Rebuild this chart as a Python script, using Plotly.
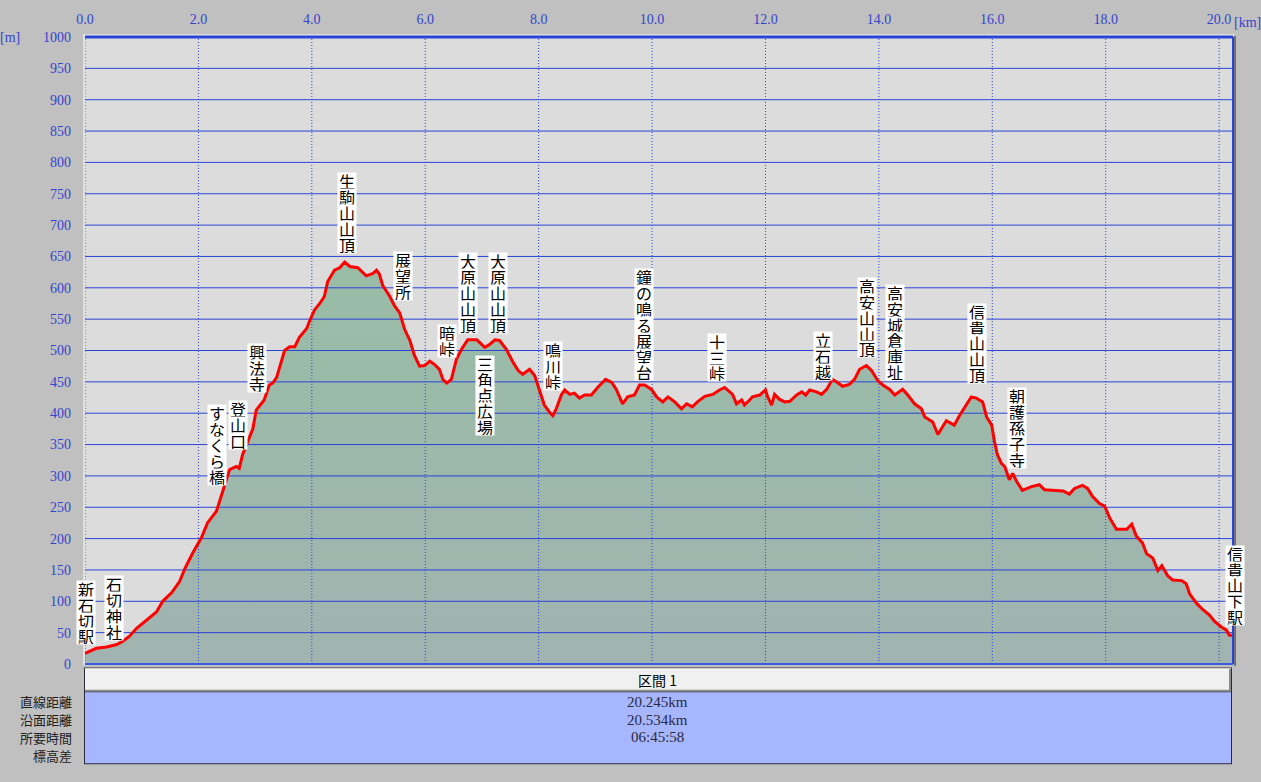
import plotly.graph_objects as go

# ---------------- data ----------------
dist_km = [0.00, 0.11, 0.20, 0.38, 0.56, 0.66, 0.78, 0.91, 1.08, 1.26, 1.37, 1.53, 1.67, 1.76, 1.90,
           2.05, 2.16, 2.32, 2.41, 2.46, 2.55, 2.67, 2.72, 2.78, 2.87, 2.96, 3.02, 3.16, 3.25, 3.31,
           3.38, 3.46, 3.52, 3.61, 3.70, 3.78, 3.91, 3.96, 4.05, 4.14, 4.22, 4.28, 4.40, 4.49, 4.58,
           4.67, 4.81, 4.96, 5.08, 5.14, 5.19, 5.25, 5.37, 5.46, 5.55, 5.64, 5.73, 5.81, 5.90, 5.99,
           6.08, 6.16, 6.25, 6.31, 6.38, 6.46, 6.55, 6.64, 6.75, 6.91, 7.05, 7.14, 7.23, 7.31, 7.43,
           7.55, 7.64, 7.72, 7.84, 7.93, 8.02, 8.10, 8.19, 8.25, 8.31, 8.40, 8.46, 8.55, 8.63, 8.72,
           8.81, 8.93, 9.04, 9.18, 9.29, 9.37, 9.48, 9.57, 9.69, 9.78, 9.87, 9.99, 10.08, 10.19, 10.28,
           10.40, 10.52, 10.61, 10.71, 10.80, 10.93, 11.07, 11.19, 11.28, 11.42, 11.49, 11.58, 11.63,
           11.72, 11.77, 11.90, 12.00, 12.04, 12.11, 12.16, 12.25, 12.34, 12.43, 12.55, 12.64, 12.71,
           12.78, 12.90, 12.99, 13.08, 13.18, 13.27, 13.36, 13.48, 13.57, 13.66, 13.78, 13.87, 13.98,
           14.07, 14.19, 14.28, 14.42, 14.51, 14.63, 14.75, 14.81, 14.95, 15.04, 15.19, 15.33, 15.42,
           15.54, 15.63, 15.72, 15.83, 15.90, 15.99, 16.04, 16.09, 16.16, 16.22, 16.30, 16.36, 16.43,
           16.53, 16.69, 16.83, 16.92, 17.13, 17.25, 17.36, 17.45, 17.59, 17.68, 17.77, 17.89, 17.98,
           18.07, 18.19, 18.37, 18.46, 18.54, 18.65, 18.72, 18.83, 18.92, 18.99, 19.09, 19.18, 19.34,
           19.42, 19.48, 19.60, 19.71, 19.83, 19.92, 20.04, 20.13, 20.18, 20.245]
elev_m = [17, 22, 25, 27, 31, 36, 44, 57, 70, 83, 100, 114, 132, 152, 177,
          201, 225, 244, 270, 285, 310, 315, 312, 334, 354, 375, 405, 421, 445, 448,
          457, 481, 500, 506, 506, 521, 535, 547, 565, 575, 586, 610, 628, 632, 641,
          634, 632, 619, 623, 628, 622, 604, 587, 571, 560, 533, 516, 492, 475, 476,
          483, 478, 470, 454, 448, 454, 486, 502, 517, 517, 505, 510, 517, 516, 502,
          481, 468, 462, 470, 460, 434, 413, 402, 396, 407, 429, 437, 430, 432, 424,
          429, 429, 441, 454, 449, 438, 415, 426, 429, 445, 445, 438, 426, 418, 426,
          418, 407, 415, 410, 418, 427, 430, 437, 441, 430, 415, 421, 413,
          421, 426, 429, 437, 426, 413, 430, 422, 418, 419, 429, 434, 429,
          437, 434, 430, 438, 454, 449, 443, 446, 454, 470, 476, 468, 452,
          445, 438, 429, 438, 429, 415, 407, 394, 386, 366, 388, 381, 396,
          413, 426, 424, 418, 394, 381, 354, 334, 320, 315, 294, 304, 291,
          277, 283, 286, 278, 277, 276, 271, 280, 285, 280, 267, 256, 252,
          233, 215, 215, 223, 204, 193, 176, 169, 149, 157, 141, 134, 133,
          128, 112, 97, 87, 78, 68, 59, 54, 46, 46]

label_names = ["新石切駅", "石切神社", "すなくら橋", "登山口", "興法寺", "生駒山山頂", "展望所", "暗峠",
               "大原山山頂", "大原山山頂", "三角点広場", "鳴川峠", "鐘の鳴る展望台", "十三峠", "立石越",
               "高安山山頂", "高安城倉庫址", "信貴山山頂", "朝護孫子寺", "信貴山下駅"]
label_km = [0.01, 0.51, 2.33, 2.70, 3.03, 4.62, 5.61, 6.38, 6.75, 7.28, 7.05, 8.25, 9.86, 11.15,
            13.02, 13.79, 14.29, 15.73, 16.44, 20.28]
label_top_m = [120, 127, 400, 407, 498, 770, 644, 528, 642, 642, 479, 501, 617, 514, 517, 603,
               592, 562, 427, 176]

x_ticks = [0, 2, 4, 6, 8, 10, 12, 14, 16, 18, 20]
x_tick_text = ["0.0", "2.0", "4.0", "6.0", "8.0", "10.0", "12.0", "14.0", "16.0", "18.0", "20.0"]
y_ticks = list(range(0, 1001, 50))

row_labels = ["直線距離", "沿面距離", "所要時間", "標高差"]
row_values = ["20.245km", "20.534km", "06:45:58", ""]
section_title = "区間 1"

# ---------------- layout geometry ----------------
W, H = 1261, 782
PL, PR, PT, PB = 85, 1233, 32, 664
XMAX = 20.245
YMAX = 1000

def fx(px):
    return (px - PL) / (PR - PL)

def fy(py):
    return (PB - py) / (PB - PT)

M_PER_PX = YMAX / (PB - PT)
PX_PER_KM = (PR - PL) / XMAX
GRID = "#2a44d8"
TICK = "#3344cc"

fig = go.Figure()

fig.add_trace(go.Scatter(
    x=dist_km, y=elev_m, mode="lines", line=dict(width=0, color="rgba(0,0,0,0)"),
    fill="tozeroy",
    fillgradient=dict(type="vertical", start=0, stop=650,
                      colorscale=[[0, "#A1B3B0"], [1, "#98BDA6"]]),
    hoverinfo="skip", showlegend=False))

gx, gy = [], []
for v in y_ticks:
    gx += [0, XMAX, None]
    gy += [v, v, None]
fig.add_trace(go.Scatter(x=gx, y=gy, mode="lines", line=dict(color=GRID, width=1),
                         hoverinfo="skip", showlegend=False))
vx, vy = [], []
for v in x_ticks:
    vx += [v, v, None]
    vy += [0, YMAX, None]
fig.add_trace(go.Scatter(x=vx, y=vy, mode="lines", line=dict(color=GRID, width=1, dash="1px,2px"),
                         hoverinfo="skip", showlegend=False))

fig.add_trace(go.Scatter(x=dist_km, y=elev_m, mode="lines", line=dict(color="#ff0000", width=3),
                         hoverinfo="skip", showlegend=False))

annotations = []
step_m = 16 * M_PER_PX
for name, xk, ytop in zip(label_names, label_km, label_top_m):
    xa = min(xk, XMAX)
    xs = (xk - xa) * PX_PER_KM
    for i, ch in enumerate(name):
        annotations.append(dict(
            x=xa, y=ytop - i * step_m, xref="x", yref="y", text=ch, showarrow=False,
            xshift=xs, xanchor="center", yanchor="middle", width=18, height=16, borderpad=0,
            bgcolor="#ffffff",
            font=dict(family="Noto Sans CJK JP", size=16, color="#000")))

annotations.append(dict(x=fx(10), y=fy(33), xref="paper", yref="paper", text="[m]", showarrow=False,
                        xanchor="center", yanchor="middle",
                        font=dict(family="Liberation Serif", size=14, color=TICK)))
annotations.append(dict(x=fx(1247), y=fy(17), xref="paper", yref="paper", text="[km]", showarrow=False,
                        xanchor="center", yanchor="middle",
                        font=dict(family="Liberation Serif", size=14, color=TICK)))

shapes = []
shapes.append(dict(type="line", xref="paper", yref="paper", x0=fx(84), x1=fx(84), y0=fy(30), y1=fy(665),
                   line=dict(color="#ffffff", width=1)))
shapes.append(dict(type="line", xref="paper", yref="paper", x0=fx(83), x1=fx(1234), y0=fy(30), y1=fy(30),
                   line=dict(color="#ffffff", width=1)))
shapes.append(dict(type="line", xref="paper", yref="paper", x0=0, x1=1, y0=1, y1=1,
                   line=dict(color="#2a44d8", width=3)))
shapes.append(dict(type="line", xref="paper", yref="paper", x0=1, x1=1, y0=0, y1=1,
                   line=dict(color="#2a44d8", width=2)))
shapes.append(dict(type="line", xref="paper", yref="paper", x0=fx(1235), x1=fx(1235), y0=fy(666), y1=fy(31),
                   line=dict(color="#707070", width=2)))
shapes.append(dict(type="line", xref="paper", yref="paper", x0=0, x1=1, y0=0, y1=0,
                   line=dict(color="#3b5ce0", width=2)))

shapes.append(dict(type="rect", xref="paper", yref="paper", x0=fx(84), x1=fx(1232), y0=fy(765), y1=fy(667.5),
                   fillcolor="#2a2a3a", line=dict(width=0)))
shapes.append(dict(type="rect", xref="paper", yref="paper", x0=fx(85), x1=fx(1231), y0=fy(691), y1=fy(668.5),
                   fillcolor="#f0f0f0", line=dict(width=0)))
shapes.append(dict(type="line", xref="paper", yref="paper", x0=fx(85), x1=fx(1231), y0=fy(669), y1=fy(669),
                   line=dict(color="#ffffff", width=1)))
shapes.append(dict(type="line", xref="paper", yref="paper", x0=fx(85), x1=fx(1231), y0=fy(691), y1=fy(691),
                   line=dict(color="#8a8a8a", width=2)))
shapes.append(dict(type="line", xref="paper", yref="paper", x0=fx(1230), x1=fx(1230), y0=fy(669), y1=fy(691),
                   line=dict(color="#8a8a8a", width=2)))
shapes.append(dict(type="rect", xref="paper", yref="paper", x0=fx(85), x1=fx(1231), y0=fy(764), y1=fy(692.5),
                   fillcolor="#a6b6ff", line=dict(width=0)))

annotations.append(dict(x=fx(657), y=fy(680), xref="paper", yref="paper", text=section_title, showarrow=False,
                        xanchor="center", yanchor="middle",
                        font=dict(family="Noto Sans CJK JP", size=14, color="#000")))
row_y = [702, 720, 738, 756]
for lab, val, ry in zip(row_labels, row_values, row_y):
    annotations.append(dict(x=fx(74), y=fy(ry), xref="paper", yref="paper", text=lab, showarrow=False,
                            xanchor="right", yanchor="middle",
                            font=dict(family="Noto Sans CJK JP", size=13, color="#222")))
    if val:
        annotations.append(dict(x=fx(657), y=fy(ry), xref="paper", yref="paper", text=val, showarrow=False,
                                xanchor="center", yanchor="middle",
                                font=dict(family="Liberation Serif", size=15, color="#2a2a40")))

fig.update_layout(
    width=W, height=H, autosize=False,
    margin=dict(l=PL, r=W - PR, t=PT, b=H - PB, pad=0),
    paper_bgcolor="#c0c0c0", plot_bgcolor="#dcdcdc",
    showlegend=False,
    xaxis=dict(range=[0, XMAX], side="top", showgrid=False, zeroline=False, showline=False,
               tickmode="array", tickvals=x_ticks, ticktext=x_tick_text, ticks="",
               ticklabelstandoff=9,
               tickfont=dict(family="Liberation Serif", size=14, color=TICK), fixedrange=True),
    yaxis=dict(range=[0, YMAX], showgrid=False, zeroline=False, showline=False,
               tickmode="array", tickvals=y_ticks, ticks="", ticklabelstandoff=13,
               tickfont=dict(family="Liberation Serif", size=14, color=TICK), fixedrange=True),
    annotations=annotations, shapes=shapes,
)

fig.write_html("out.html", config={"displayModeBar": False},
               post_script="document.body.style.margin='0';")
